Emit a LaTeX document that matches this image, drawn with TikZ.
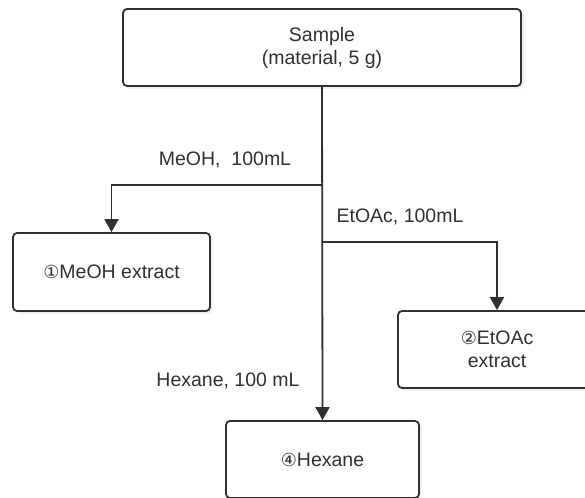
\documentclass[tikz,border=0pt]{standalone}
\usepackage{fontspec}
\setmainfont{Liberation Sans}
\newfontfamily\circfont{DejaVu Sans}
\usetikzlibrary{arrows.meta,shadows}
\definecolor{ink}{HTML}{303030}
\newcommand{\num}[1]{{\circfont\fontsize{18}{20}\selectfont #1}}
\newcommand{\splitto}[2]{%
  \draw[flow] (#1) -| (#2.north)}

\begin{document}
\begin{tikzpicture}[x=1pt, y=-1pt,
    box/.style={draw=ink, line width=1.8pt, rounded corners=4pt, fill=white,
      align=center, text=ink, inner sep=0pt,
      drop shadow={shadow xshift=3pt, shadow yshift=-3pt, opacity=0.12}},
    flow/.style={ink, line width=1.8pt, -{Triangle[width=14pt,length=13pt]}},
    lbl/.style={text=ink, inner sep=0pt},
    every node/.style={font=\fontsize{19.5}{23}\selectfont}]
  \useasboundingbox (0,0) rectangle (585,497);
  \clip (0,0) rectangle (585,497);

  % boxes
  \node[box, minimum width=398pt, minimum height=77pt] (sample) at (322,47.5)
    {Sample\\(material, 5 g)};
  \node[box, minimum width=197pt, minimum height=78pt] (meoh) at (111.5,272)
    {\num{①}MeOH extract};
  \node[box, minimum width=198pt, minimum height=77pt] (etoac) at (497,349.5)
    {\num{②}EtOAc\\extract};
  \node[box, minimum width=193pt, minimum height=77pt] (hexane) at (322.5,459.5)
    {\num{④}Hexane};

  % branch points on the main line
  \coordinate (jmeoh) at (322,185);
  \coordinate (jetoac) at (322,242);

  \draw[flow] (sample.south) -- (hexane.north);
  \splitto{jmeoh}{meoh};
  \splitto{jetoac}{etoac};

  % solvent labels
  \node[lbl] (smeoh) at (225,160) {MeOH,~~100mL};
  \node[lbl] (setoac) at (400,217) {EtOAc, 100mL};
  \node[lbl] (shexane) at (228,381) {Hexane, 100 mL};
\end{tikzpicture}
\end{document}
